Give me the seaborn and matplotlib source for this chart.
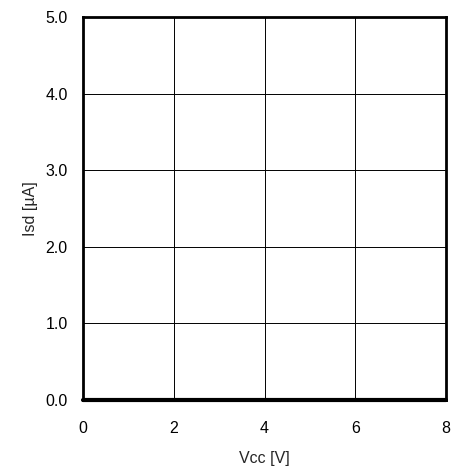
import matplotlib
matplotlib.use("Agg")
import matplotlib.pyplot as plt
import seaborn as sns
import pandas as pd

# Isd stays at ~0 over the whole supply range
vcc = [0, 2, 4, 6, 8]
isd = [0.0, 0.0, 0.0, 0.0, 0.0]
x_ticks = [0, 2, 4, 6, 8]
y_ticks = [0.0, 1.0, 2.0, 3.0, 4.0, 5.0]

sns.set_style("white")
plt.rcParams["font.family"] = ["Liberation Sans", "DejaVu Sans"]

df = pd.DataFrame({"Vcc": vcc, "Isd": isd})

fig = plt.figure(figsize=(4.68, 4.68), dpi=100)
ax = fig.add_axes([83 / 468, 1 - 400 / 468, 363 / 468, 383 / 468])

sns.lineplot(data=df, x="Vcc", y="Isd", color="black", linewidth=3, ax=ax, clip_on=False)

ax.set_xlim(0, 8)
ax.set_ylim(0, 5)
ax.set_xticks(x_ticks)
ax.set_yticks(y_ticks)
ax.set_xticklabels([str(t) for t in x_ticks], fontsize=11.5)
ax.set_yticklabels([f"{t:.1f}" for t in y_ticks], fontsize=11.5)
ax.grid(True, color="black", linewidth=0.7)
ax.set_axisbelow(True)
for s in ax.spines.values():
    s.set_visible(True)
    s.set_color("black")
    s.set_linewidth(2)
ax.tick_params(axis="both", direction="in", length=4, width=0.7, colors="black")
ax.tick_params(axis="x", pad=15)
ax.tick_params(axis="y", pad=11)
ax.set_xlabel("Vcc [V]", fontsize=11.5, labelpad=11)
ax.set_ylabel("Isd [µA]", fontsize=11.5, labelpad=5)

fig.savefig("out.png", dpi=100)
